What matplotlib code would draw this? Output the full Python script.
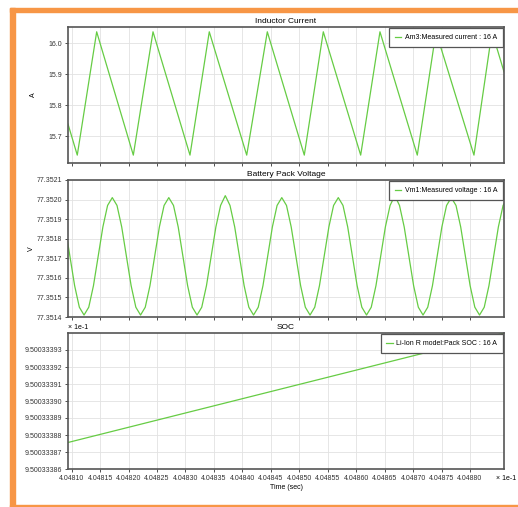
import matplotlib.pyplot as plt
import numpy as np
from matplotlib.patches import Rectangle
from matplotlib.ticker import FuncFormatter

plt.rcParams['font.family'] = ['Liberation Sans', 'DejaVu Sans']
plt.rcParams['font.size'] = 5.0

# Inductor current: vertices of the triangle wave (time in s, current in A)
cur_t = [0.40480935, 0.40481098, 0.40481439, 0.40482083, 0.40482429, 0.40483079,
         0.40483418, 0.40484076, 0.40484438, 0.40485088, 0.40485422, 0.40486079,
         0.40486418, 0.40487074, 0.40487403, 0.40488070, 0.40488387, 0.40488598]
cur_a = [15.739, 15.6385, 16.0375, 15.6385, 16.0375, 15.6385,
         16.0375, 15.6385, 16.0375, 15.6385, 16.0375, 15.6385,
         16.0375, 15.6385, 16.0375, 15.6385, 16.0375, 15.908]

# Battery pack voltage, sampled every ~0.83 us starting at t = 0.40480886 s
volt_t0 = 0.40480886
volt_dt = 8.275e-7
volt_v = [
    77.35186, 77.35171, 77.35156, 77.35145, 77.35141, 77.35145, 77.35156, 77.35171, 77.35186, 77.35197,
    77.35201, 77.35197, 77.35186, 77.35171, 77.35156, 77.35145, 77.35141, 77.35145, 77.35156, 77.35171, 77.35186, 77.35197,
    77.35201, 77.35197, 77.35186, 77.35171, 77.35156, 77.35145, 77.35141, 77.35145, 77.35156, 77.35171, 77.35186, 77.35197,
    77.35202, 77.35197, 77.35186, 77.35171, 77.35156, 77.35145, 77.35141, 77.35145, 77.35156, 77.35171, 77.35186, 77.35197,
    77.35201, 77.35197, 77.35186, 77.35171, 77.35156, 77.35145, 77.35141, 77.35145, 77.35156, 77.35171, 77.35186, 77.35197,
    77.35201, 77.35197, 77.35186, 77.35171, 77.35156, 77.35145, 77.35141, 77.35145, 77.35156, 77.35171, 77.35186, 77.35197,
    77.35202, 77.35197, 77.35186, 77.35171, 77.35156, 77.35145, 77.35141, 77.35145, 77.35156, 77.35171, 77.35186, 77.35197,
    77.35201, 77.35197, 77.35186, 77.35171, 77.35156, 77.35145, 77.35141, 77.35145, 77.35156, 77.35171, 77.35186, 77.35197,
    77.35201,
]
volt_t = volt_t0 + volt_dt * np.arange(len(volt_v))

# Pack SOC (fraction)
soc_t = [0.40480935, 0.40488598]
soc_v = [0.95003338756, 0.95003339400]

x_ticks = [0.404810, 0.404815, 0.404820, 0.404825, 0.404830, 0.404835, 0.404840,
           0.404845, 0.404850, 0.404855, 0.404860, 0.404865, 0.404870, 0.404875, 0.404880]
cur_ticks = [15.7, 15.8, 15.9, 16.0]
volt_ticks = [77.3514, 77.3515, 77.3516, 77.3517, 77.3518, 77.3519, 77.3520, 77.3521]
soc_ticks = [0.950033386, 0.950033387, 0.950033388, 0.950033389,
             0.950033390, 0.950033391, 0.950033392, 0.950033393]

green = '#66cc44'
frame = '#555555'
W, H = 518, 507

fig = plt.figure(figsize=(W / 100, H / 100), dpi=100)

# orange frame around the screenshot
orange = '#f79646'
fig.patches.append(Rectangle((10 / W, 0), 5 / W, 1 - 8 / H, transform=fig.transFigure, color=orange))
fig.patches.append(Rectangle((10 / W, 1 - 12 / H), 1, 4 / H, transform=fig.transFigure, color=orange))
fig.patches.append(Rectangle((10 / W, 0), 1, 2 / H, transform=fig.transFigure, color=orange))


def make_axes(top, bottom):
    ax = fig.add_axes([68 / W, 1 - bottom / H, (504 - 68) / W, (bottom - top) / H])
    for s in ax.spines.values():
        s.set_color(frame)
        s.set_linewidth(1.2)
    ax.grid(True, color='#e2e2e2', linewidth=0.6)
    ax.tick_params(length=2.5, width=0.6, pad=1.5, colors='#333333')
    ax.set_xlim(cur_t[0], cur_t[-1])
    ax.set_xticks(x_ticks)
    ax.yaxis.set_label_coords(-0.071, 0.5)
    return ax


ax1 = make_axes(27, 163)
ax1.plot(cur_t, cur_a, color=green, linewidth=0.9, label='Am3:Measured current : 16 A')
ax1.set_ylim(15.613, 16.053)
ax1.set_yticks(cur_ticks)
ax1.yaxis.set_major_formatter(FuncFormatter(lambda v, p: f'{v:.1f}'))
ax1.set_ylabel('A')
ax1.set_title('Inductor Current', pad=3)
ax1.tick_params(labelbottom=False)

ax2 = make_axes(180, 317)
ax2.plot(volt_t, volt_v, color=green, linewidth=0.9, label='Vm1:Measured voltage : 16 A')
ax2.set_ylim(77.3514, 77.3521)
ax2.set_yticks(volt_ticks)
ax2.yaxis.set_major_formatter(FuncFormatter(lambda v, p: f'{v:.4f}'))
ax2.set_ylabel('V')
ax2.yaxis.set_label_coords(-0.075, 0.5)
ax2.set_title('Battery Pack Voltage', pad=3)
ax2.tick_params(labelbottom=False)

ax3 = make_axes(333, 469)
ax3.plot(soc_t, soc_v, color=green, linewidth=0.9, label='Li-Ion R model:Pack SOC : 16 A')
ax3.set_ylim(0.950033386, 0.950033394)
ax3.set_yticks(soc_ticks)
ax3.yaxis.set_major_formatter(FuncFormatter(lambda v, p: f'{v * 10:.8f}'))
ax3.xaxis.set_major_formatter(FuncFormatter(lambda v, p: f'{v * 10:.5f}'))
ax3.set_title('SOC', pad=3)
ax3.set_xlabel('Time (sec)', labelpad=1.5)
ax3.text(0.0, 1.015, '× 1e-1', transform=ax3.transAxes, ha='left', va='bottom')
ax3.text(1.005, -0.072, '× 1e-1', transform=ax3.transAxes, ha='center', va='center')

for ax in (ax1, ax2, ax3):
    leg = ax.legend(loc='upper right', fancybox=False, framealpha=1, borderaxespad=0.15,
                    handlelength=0.9, handletextpad=0.5, borderpad=0.85)
    leg.get_frame().set_edgecolor(frame)
    leg.get_frame().set_linewidth(0.9)

fig.savefig('out.png', dpi=100)
